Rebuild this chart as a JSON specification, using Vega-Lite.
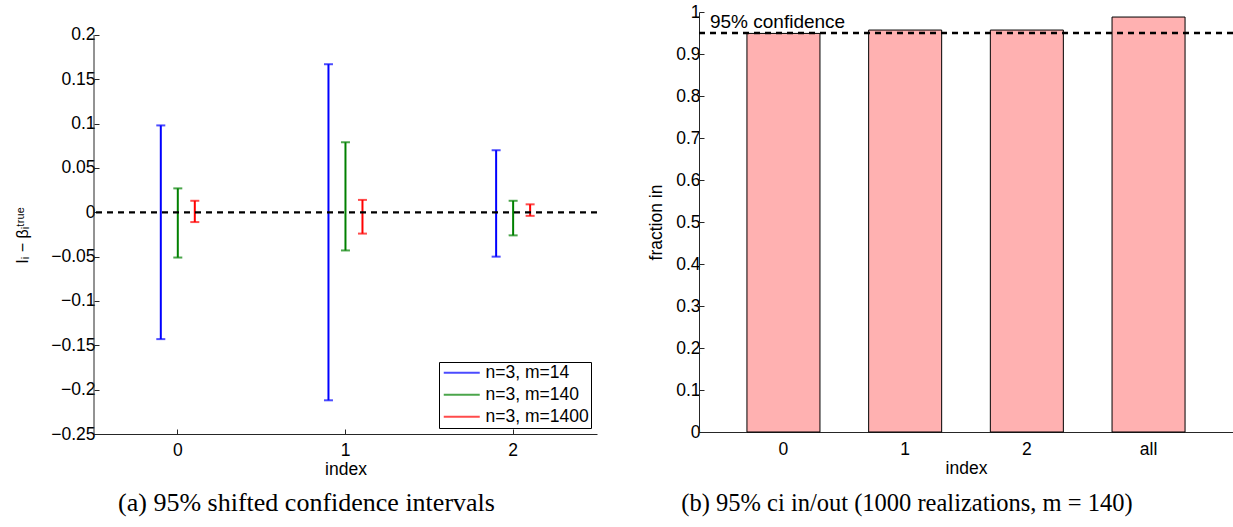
{
  "$schema": "https://vega.github.io/schema/vega-lite/v6.json",
  "padding": {"left": 14, "top": 3, "right": 0, "bottom": 0},
  "background": "white",
  "config": {
    "view": {"stroke": null},
    "font": "Liberation Sans",
    "axis": {
      "labelFont": "Liberation Sans", "labelFontSize": 17.5, "labelColor": "black",
      "titleFont": "Liberation Sans", "titleFontSize": 17.5, "titleFontWeight": "normal", "titleColor": "black",
      "domainColor": "#262626", "tickColor": "#262626", "grid": false, "tickSize": -5, "labelPadding": 4
    }
  },
  "spacing": 48,
  "resolve": {"scale": {"color": "independent"}, "legend": {"color": "independent"}},
  "hconcat": [
    {
      "width": 503,
      "height": 422,
      "layer": [
        {
          "data": {"name": "ci"},
          "mark": {"type": "rule", "strokeWidth": 2},
          "encoding": {
            "x": {"field": "index", "type": "nominal", "sort": null,
                  "scale": {"domain": ["0", "1", "2"], "paddingInner": 0, "paddingOuter": 0},
                  "axis": {"title": "index", "labelAngle": 0, "titlePadding": 2, "labelPadding": 12}},
            "xOffset": {"field": "series", "type": "nominal", "sort": null,
                  "scale": {"domain": ["n=3, m=14", "n=3, m=140", "n=3, m=1400"], "range": [58.3, 109.3], "paddingInner": 0, "paddingOuter": 0}},
            "y": {"field": "lo", "type": "quantitative",
                  "scale": {"domain": [-0.25, 0.2259], "nice": false, "zero": false},
                  "axis": {"title": "Iᵢ − βᵢᵗʳᵘᵉ", "titleFontSize": 16, "values": [-0.25, -0.2, -0.15, -0.1, -0.05, 0, 0.05, 0.1, 0.15, 0.2], "format": "~g", "titlePadding": 20, "titleY": 223, "domain": false}},
            "y2": {"field": "hi"},
            "color": {"field": "series", "type": "nominal", "sort": null,
                  "scale": {"domain": ["n=3, m=14", "n=3, m=140", "n=3, m=1400"], "range": ["#0000ff", "#008000", "#ff0000"]},
                  "legend": {"title": null, "orient": "bottom-right", "offset": 6, "strokeColor": "black", "fillColor": "white",
                             "padding": 2, "symbolType": "M-3.6,0H3.6", "symbolSize": 100, "symbolStrokeWidth": 2,
                             "labelFont": "Liberation Sans", "labelFontSize": 17.5, "labelColor": "black",
                             "rowPadding": 3, "symbolOffset": 12, "labelOffset": 15}}
          }
        },
        {
          "data": {"name": "ci"},
          "mark": {"type": "tick", "orient": "horizontal", "size": 9, "thickness": 2},
          "encoding": {
            "x": {"field": "index", "type": "nominal", "sort": null},
            "xOffset": {"field": "series", "type": "nominal", "sort": null},
            "y": {"field": "lo", "type": "quantitative"},
            "color": {"field": "series", "type": "nominal", "sort": null}
          }
        },
        {
          "data": {"name": "ci"},
          "mark": {"type": "tick", "orient": "horizontal", "size": 9, "thickness": 2},
          "encoding": {
            "x": {"field": "index", "type": "nominal", "sort": null},
            "xOffset": {"field": "series", "type": "nominal", "sort": null},
            "y": {"field": "hi", "type": "quantitative"},
            "color": {"field": "series", "type": "nominal", "sort": null}
          }
        },
        {
          "data": {"values": [{"ref": 0}]},
          "mark": {"type": "rule", "strokeDash": [6, 5], "strokeWidth": 2.3, "color": "black"},
          "encoding": {"y": {"field": "ref", "type": "quantitative"}}
        },
        {
          "data": {"values": [{"lo": -0.25, "hi": 0.2}]},
          "mark": {"type": "rule", "strokeWidth": 1, "color": "#262626"},
          "encoding": {"x": {"datum": "0", "bandPosition": 0}, "y": {"field": "lo", "type": "quantitative"}, "y2": {"field": "hi"}}
        },
        {
          "data": {"values": [{"caption": "(a) 95% shifted confidence intervals"}]},
          "mark": {"type": "text", "font": "Liberation Serif", "fontSize": 26, "align": "center", "baseline": "alphabetic", "dx": -39, "color": "black"},
          "encoding": {
            "x": {"datum": "1"},
            "y": {"datum": -0.337},
            "text": {"field": "caption"}
          }
        }
      ]
    },
    {
      "width": 534,
      "height": 420,
      "title": {"text": "(b) 95% ci in/out (1000 realizations, m = 140)", "orient": "bottom", "font": "Liberation Serif", "fontSize": 24.5, "fontWeight": "normal", "anchor": "middle", "dx": -59, "offset": 15, "color": "black"},
      "layer": [
        {
          "data": {"values": [
            {"idx": "0", "frac": 0.949},
            {"idx": "1", "frac": 0.957},
            {"idx": "2", "frac": 0.957},
            {"idx": "all", "frac": 0.988}
          ]},
          "mark": {"type": "bar", "fill": "#ffb1b1", "stroke": "black", "strokeWidth": 1},
          "encoding": {
            "x": {"field": "idx", "type": "nominal", "sort": null,
                  "scale": {"domain": ["0", "1", "2", "all"], "paddingInner": 0.4, "paddingOuter": 0.394},
                  "axis": {"title": "index", "labelAngle": 0, "ticks": false, "labelPadding": 8, "titlePadding": 2}},
            "y": {"field": "frac", "type": "quantitative",
                  "scale": {"domain": [0, 1], "nice": false},
                  "axis": {"title": "fraction in", "values": [0, 0.1, 0.2, 0.3, 0.4, 0.5, 0.6, 0.7, 0.8, 0.9, 1], "format": "~g", "titlePadding": 10}}
          }
        },
        {
          "data": {"values": [{"level": 0.95, "label": "95% confidence"}]},
          "mark": {"type": "rule", "strokeDash": [6, 5], "strokeWidth": 2.3, "color": "black"},
          "encoding": {"y": {"field": "level", "type": "quantitative"}}
        },
        {
          "data": {"values": [{"level": 0.95, "label": "95% confidence"}]},
          "mark": {"type": "text", "align": "left", "baseline": "alphabetic", "dx": -37, "dy": -5, "fontSize": 19, "color": "black"},
          "encoding": {
            "x": {"datum": "0", "bandPosition": 0},
            "y": {"field": "level", "type": "quantitative"},
            "text": {"field": "label"}
          }
        }
      ]
    }
  ],
  "datasets": {
    "ci": [
      {"index": "0", "series": "n=3, m=14", "lo": -0.143, "hi": 0.098},
      {"index": "0", "series": "n=3, m=140", "lo": -0.051, "hi": 0.027},
      {"index": "0", "series": "n=3, m=1400", "lo": -0.011, "hi": 0.013},
      {"index": "1", "series": "n=3, m=14", "lo": -0.212, "hi": 0.167},
      {"index": "1", "series": "n=3, m=140", "lo": -0.043, "hi": 0.079},
      {"index": "1", "series": "n=3, m=1400", "lo": -0.024, "hi": 0.014},
      {"index": "2", "series": "n=3, m=14", "lo": -0.050, "hi": 0.070},
      {"index": "2", "series": "n=3, m=140", "lo": -0.026, "hi": 0.013},
      {"index": "2", "series": "n=3, m=1400", "lo": -0.004, "hi": 0.009}
    ]
  }
}
